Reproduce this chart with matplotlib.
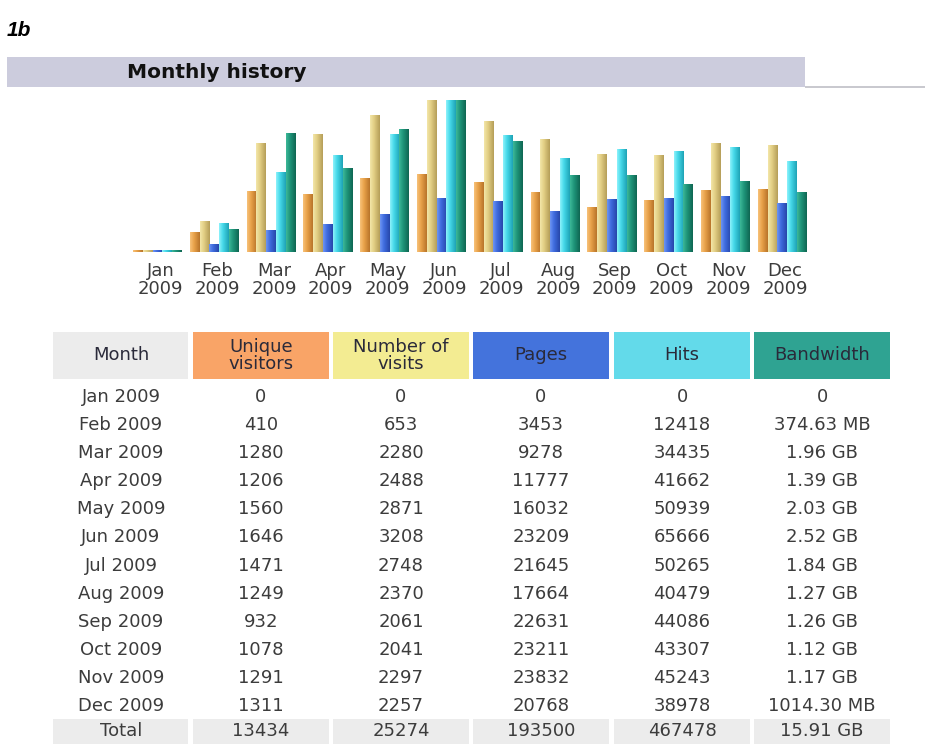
import numpy as np
import matplotlib
matplotlib.use("Agg")
import matplotlib.pyplot as plt
from matplotlib.patches import Rectangle
from matplotlib.colors import LinearSegmentedColormap

# ---------------- data ----------------
months = ["Jan", "Feb", "Mar", "Apr", "May", "Jun",
          "Jul", "Aug", "Sep", "Oct", "Nov", "Dec"]
year = "2009"
unique_visitors = [0, 410, 1280, 1206, 1560, 1646, 1471, 1249, 932, 1078, 1291, 1311]
visits = [0, 653, 2280, 2488, 2871, 3208, 2748, 2370, 2061, 2041, 2297, 2257]
pages = [0, 3453, 9278, 11777, 16032, 23209, 21645, 17664, 22631, 23211, 23832, 20768]
hits = [0, 12418, 34435, 41662, 50939, 65666, 50265, 40479, 44086, 43307, 45243, 38978]
bandwidth_gb = [0, 0.36585, 1.96, 1.39, 2.03, 2.52, 1.84, 1.27, 1.26, 1.12, 1.17, 0.99053]
bandwidth_labels = ["0", "374.63 MB", "1.96 GB", "1.39 GB", "2.03 GB", "2.52 GB",
                    "1.84 GB", "1.27 GB", "1.26 GB", "1.12 GB", "1.17 GB", "1014.30 MB"]
bandwidth_total_label = "15.91 GB"
headers = ["Month", "Unique\nvisitors", "Number of\nvisits", "Pages", "Hits", "Bandwidth"]
title = "Monthly history"
panel_label = "1b"

# ---------------- styles ----------------
W, H = 925, 744
header_colors = ["#ECECEC", "#F9A467", "#F3EC92", "#4473DC", "#63DAEA", "#2FA392"]
bar_grads = [
    ("#F7C27A", "#E9A24A", "#B8742A"),   # unique visitors
    ("#F3E6A8", "#E2CE84", "#B59E58"),   # visits
    ("#6E95F2", "#3F6CDF", "#2747AA"),   # pages
    ("#8DF2FB", "#45D8E9", "#1EA3B5"),   # hits
    ("#3DB898", "#1F957A", "#0F6652"),   # bandwidth
]
txt_color = "#3c3c3c"
FONT = "DejaVu Sans"
FS = 13

fig = plt.figure(figsize=(W / 100, H / 100), dpi=100)
fig.patch.set_facecolor("white")

# pixel-space overlay axes for frame elements and table
bg = fig.add_axes([0, 0, 1, 1])
bg.set_xlim(0, W)
bg.set_ylim(H, 0)
bg.axis("off")

# panel label
bg.text(7, 30, panel_label, fontsize=15, fontweight="bold", fontstyle="italic",
        family="Liberation Sans", va="center", ha="left", color="black")

# title bar
bg.add_patch(Rectangle((7, 57), 798, 30, facecolor="#CCCCDD", edgecolor="none"))
bg.add_patch(Rectangle((805, 85.5), 120, 2.5, facecolor="#C9C9CF", edgecolor="none"))
bg.text(127, 73, title, fontsize=14.5, fontweight="bold", family=FONT,
        va="center", ha="left", color="#111111")

# ---------------- bar chart ----------------
pitch = 56.8
grp0 = 157.5
base_y, top_y = 252, 100
ax = fig.add_axes([(grp0 - pitch / 2) / W, 1 - base_y / H,
                   12 * pitch / W, (base_y - top_y) / H])
ax.set_xlim(-0.5, 11.5)
ax.set_ylim(0, 1)
for s in ax.spines.values():
    s.set_visible(False)
ax.set_yticks([])

max_v = max(visits)
max_h = max(hits)
max_b = max(bandwidth_gb)
series = [
    np.array(unique_visitors) / max_v,
    np.array(visits) / max_v,
    np.array(pages) / max_h,
    np.array(hits) / max_h,
    np.array(bandwidth_gb) / max_b,
]
bw = 9.8 / pitch
x = np.arange(len(months))
grad = np.linspace(0, 1, 48).reshape(1, -1)
min_h = 1.2 / (base_y - top_y)
for k, vals in enumerate(series):
    cm = LinearSegmentedColormap.from_list(
        f"g{k}", [(0, bar_grads[k][0]), (0.4, bar_grads[k][1]), (1, bar_grads[k][2])])
    heights = np.maximum(vals, min_h)
    bars = ax.bar(x + (k - 2) * bw, heights, width=bw, color=bar_grads[k][1],
                  edgecolor="none", zorder=1)
    for b in bars:
        x0, w, h = b.get_x(), b.get_width(), b.get_height()
        ax.imshow(grad, extent=[x0, x0 + w, 0, h], aspect="auto", cmap=cm,
                  interpolation="bilinear", zorder=2)
ax.set_xlim(-0.5, 11.5)
ax.set_ylim(0, 1)
ax.set_xticks(x + 0.05)
ax.set_xticklabels([f"{m}\n{year}" for m in months], fontsize=FS, color=txt_color,
                   family=FONT, linespacing=1.0)
ax.tick_params(axis="x", length=0, pad=7)

# ---------------- table ----------------
col_left = [53, 193, 333, 473, 614, 754]
col_w = 136
hdr_top, hdr_bot = 332, 379
for j, (hd, c) in enumerate(zip(headers, header_colors)):
    bg.add_patch(Rectangle((col_left[j], hdr_top), col_w - (1 if j == 0 else 0),
                           hdr_bot - hdr_top, facecolor=c, edgecolor="none"))
    bg.text(col_left[j] + col_w / 2, (hdr_top + hdr_bot) / 2, hd, fontsize=FS,
            family=FONT, ha="center", va="center", color="#2a2a3a",
            linespacing=0.9)

row0, row_pitch = 397, 28.1
rows = []
for i, m in enumerate(months):
    rows.append([f"{m} {year}", str(unique_visitors[i]), str(visits[i]),
                 str(pages[i]), str(hits[i]), bandwidth_labels[i]])
for i, r in enumerate(rows):
    yy = row0 + i * row_pitch
    for j, val in enumerate(r):
        bg.text(col_left[j] + col_w / 2, yy, val, fontsize=FS, family=FONT,
                ha="center", va="center", color=txt_color)

tot_top = row0 + 11 * row_pitch + 13
tot_y = tot_top + 12
totals = ["Total", str(sum(unique_visitors)), str(sum(visits)), str(sum(pages)),
          str(sum(hits)), bandwidth_total_label]
for j, val in enumerate(totals):
    bg.add_patch(Rectangle((col_left[j], tot_top), col_w - (1 if j == 0 else 0),
                           H - tot_top + 5, facecolor="#ECECEC", edgecolor="none"))
    bg.text(col_left[j] + col_w / 2, tot_y, val, fontsize=FS, family=FONT,
            ha="center", va="center", color=txt_color)

fig.savefig("out.png", dpi=100, facecolor="white")
